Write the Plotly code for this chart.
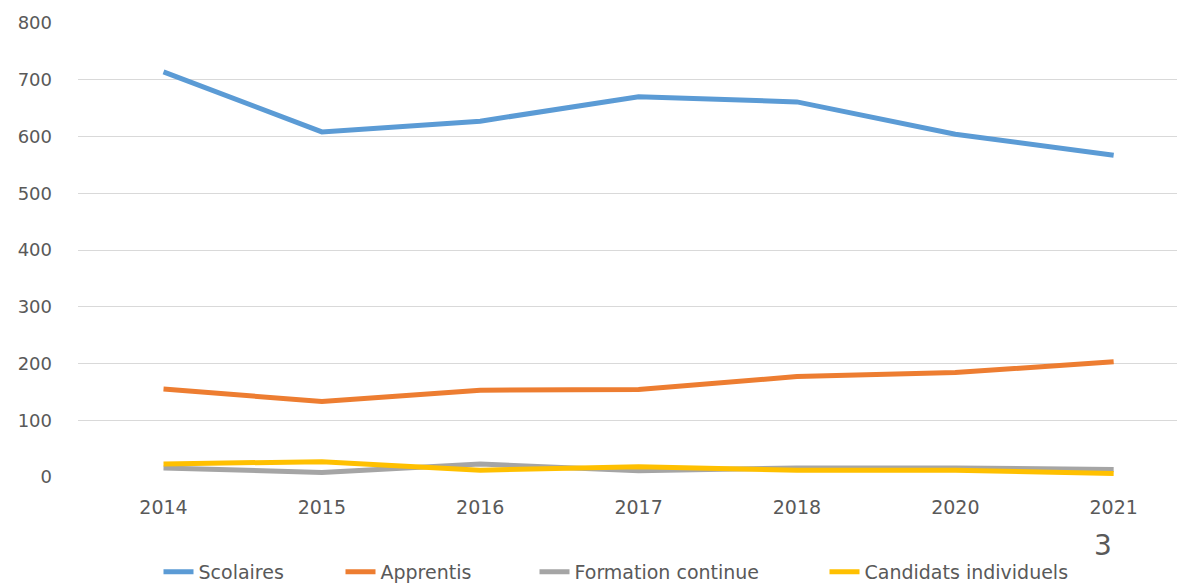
import plotly.graph_objects as go

years = ["2014", "2015", "2016", "2017", "2018", "2020", "2021"]
scolaires = [714, 608, 627, 670, 661, 604, 567]
apprentis = [155, 133, 153, 154, 177, 184, 203]
formation_continue = [16, 8, 23, 11, 16, 16, 13]
candidats_individuels = [23, 27, 12, 18, 12, 12, 6]

series = [
    ("Scolaires", scolaires, "#5B9BD5"),
    ("Apprentis", apprentis, "#ED7D31"),
    ("Formation continue", formation_continue, "#A5A5A5"),
    ("Candidats individuels", candidats_individuels, "#FFC000"),
]

PLOT_L, PLOT_W = 78, 1099
PLOT_T, PLOT_H = 23, 454
legend_ids = ["legend", "legend2", "legend3", "legend4"]
legend_text_px = [199, 381, 575, 865]

fig = go.Figure()
for (name, vals, color), lid in zip(series, legend_ids):
    fig.add_trace(go.Scatter(
        x=years, y=vals, name=name, mode="lines",
        line=dict(color=color, width=5), legend=lid,
    ))

legend_font = dict(family="DejaVu Sans, Verdana, sans-serif", size=19, color="#595959")
legends = {}
for lid, tx in zip(legend_ids, legend_text_px):
    legends[lid] = dict(
        orientation="h", x=(tx - 40.5 - PLOT_L) / PLOT_W, xanchor="left",
        y=-(572 - 477) / PLOT_H, yanchor="middle",
        font=legend_font, bgcolor="rgba(0,0,0,0)",
    )

fig.update_layout(
    width=1177, height=583,
    margin=dict(l=PLOT_L, r=0, t=PLOT_T, b=583 - PLOT_T - PLOT_H, autoexpand=False),
    paper_bgcolor="white", plot_bgcolor="white",
    font=dict(family="DejaVu Sans, Verdana, sans-serif", size=18, color="#595959"),
    showlegend=True,
    xaxis=dict(
        type="category", range=[-0.54, 6.40], automargin=False,
        showgrid=False, zeroline=False, showline=False,
        ticks="", tickfont=dict(size=19, color="#595959"),
        ticklabelstandoff=17,
    ),
    yaxis=dict(
        range=[0, 800], dtick=100, automargin=False,
        showgrid=True, gridcolor="#D9D9D9", gridwidth=1.3,
        zeroline=False, showline=False, ticks="",
        tickfont=dict(size=18, color="#595959"),
        ticklabelstandoff=25,
    ),
    annotations=[dict(
        text="3", xref="paper", yref="paper",
        x=(1103 - PLOT_L) / PLOT_W, y=-(545 - 477) / PLOT_H,
        xanchor="center", yanchor="middle", showarrow=False,
        font=dict(size=28, color="#595959", family="DejaVu Sans, sans-serif"),
    )],
    **legends,
)

fig.write_html(
    "out.html",
    config={"displayModeBar": False},
    post_script="document.body.style.margin='0';document.body.style.overflow='hidden';",
)
